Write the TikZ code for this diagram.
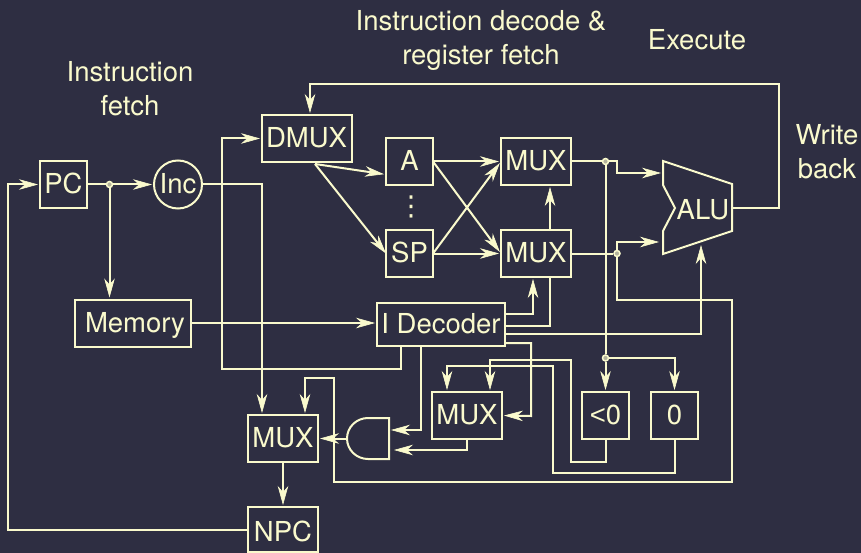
\documentclass[tikz,border=0pt]{standalone}
\usepackage{fontspec}
\setmainfont{TeX Gyre Heros}
\newfontfamily\altsans{Liberation Sans}
\newfontfamily\dotsfont{DejaVu Sans}
\usetikzlibrary{arrows.meta}
\definecolor{slate}{RGB}{46,46,66}
\definecolor{cream}{RGB}{250,250,205}
\begin{document}
\begin{tikzpicture}[x=1pt,y=-1pt,line join=miter,
  wire/.style={draw=cream,line width=2pt},
  flow/.style={wire,shorten >=2pt,-{Stealth[length=19pt,width=10.5pt,inset=6pt,line width=0.6pt]}},
  block/.style={draw=cream,line width=2pt,text=cream,inner sep=0pt,outer sep=0pt,minimum height=47pt,text height=20pt,text depth=2pt},
  reg/.style={block,minimum width=47pt},
  muxbox/.style={block,minimum width=70pt},
  tap/.style={circle,draw=cream,fill=cream!65!slate,line width=1.5pt,inner sep=0pt,minimum size=6pt},
  caption/.style={text=cream,align=center,inner sep=0pt}]
\useasboundingbox (0,0) rectangle (861,553);
\fill[slate] (0,0) rectangle (861,553);
\fontsize{27.5}{34}\selectfont
% stage captions
\node[caption] (fetchcap) at (130,88.5) {Instruction\\fetch};
\node[caption] (decodecap) at (481,40) {Instruction decode \&\\register fetch};
\node[caption] (execcap) at (697,39.5) {Execute};
\node[caption] (wbcap) at (827,151.5) {Write\\back};
% blocks
\node[reg] (pc) at (63.5,184.5) {PC};
\node[block,circle,minimum size=48pt] (inc) at (178,184.5) {Inc};
\node[block,minimum width=90pt] (dmux) at (307,138.5) {\hspace*{-1pt}DMUX};
\node[block,minimum width=116pt] (mem) at (132.5,323) {\hspace*{5pt}Memory};
\node[reg] (rega) at (409.5,161.5) {A};
\node[text=cream,inner sep=0pt] (regdots) at (411,207) {\dotsfont ⋮};
\node[reg] (regsp) at (409.5,253.5) {SP};
\node[muxbox] (muxa) at (536,161.5) {MUX};
\node[muxbox] (muxb) at (536,253.5) {MUX};
\node[block,minimum width=128pt,minimum height=43pt] (dec) at (441,324.5) {I Decoder};
\node[muxbox] (muxc) at (467,415.5) {MUX};
\node[reg] (lt) at (605.5,415.5) {{\altsans <}0};
\node[reg] (zero) at (674.5,415.5) {0};
\node[muxbox] (muxd) at (283,438.5) {MUX};
\node[muxbox,minimum height=45pt,text height=26pt] (npc) at (283,529.5) {NPC};
% ALU outline
\draw[wire] (663,161) -- (732,184) -- (732,231) -- (663,254) -- (663,231) -- (675,208) -- (663,185) -- cycle;
\node[text=cream,inner sep=0pt,text height=20pt,text depth=0pt] (alu) at (703,209.5) {ALU};
\coordinate (aluout) at (732,208);
\coordinate (aluupper) at (663,173);
\coordinate (alulower) at (661,242);
\coordinate (alubase) at (701,243);
% AND gate
\node[minimum width=42pt,minimum height=41pt,inner sep=0pt,outer sep=0pt] (andg) at (368,438.5) {};
\draw[wire] (368,418) -- (389,418) -- (389,459) -- (368,459) arc[start angle=90,end angle=270,x radius=21,y radius=20.5];
\coordinate (andup) at (389,430);
\coordinate (andlow) at (392,450);
% taps
\node[tap] (tappc) at (109.5,184.5) {};
\node[tap] (tapa) at (605.5,161.5) {};
\node[tap] (tapb) at (617,253.5) {};
\node[tap] (tapc) at (605.5,358) {};
% fetch
\draw[wire] (pc.east) -- (tappc);
\draw[flow] (tappc) -- (inc.west);
\draw[flow] (tappc) -- (mem.north -| tappc);
\draw[flow] (npc.west) -- (8,529.5) -- (8,184.5) -- (pc.west);
\draw[flow] (inc.east) -- (262,184.5) -- ([xshift=-21pt]muxd.north);
\draw[flow] (mem.east) -- (mem.east -| dec.west);
\draw[flow] ([xshift=-40pt]dec.south) -- (401,369) -- (222,369) -- (222,138.5) -- (dmux.west);
% decode
\draw[flow] (aluout) -- (779,208) -- (779,84) -- (310,84) -- ([xshift=3pt]dmux.north);
\coordinate (dmuxout) at (315,164);
\draw[flow] (dmuxout) -- ([yshift=-13pt]rega.west);
\draw[flow,shorten >=0pt] (dmuxout) -- (regsp.west);
\draw[flow] (rega.east) -- (muxa.west);
\draw[flow] (rega.east) -- (muxb.west);
\draw[flow] (regsp.east) -- (muxa.west);
\draw[flow] (regsp.east) -- (muxb.west);
\draw[flow] ([xshift=14pt]muxb.north) -- ([xshift=14pt]muxa.south);
\draw[flow] ([yshift=10.5pt]dec.east) -- (533,314) -- ([xshift=-3pt]muxb.south);
\draw[wire] ([yshift=-1.5pt]dec.east) -- (550,326) -- ([xshift=14pt]muxb.south);
% execute
\draw[wire] (muxa.east) -- (tapa);
\draw[flow] (tapa) -- (617,161.5) -- (617,173) -- (aluupper);
\draw[wire] (muxb.east) -- (tapb);
\draw[flow] (tapb) -- (617,242) -- (alulower);
\draw[flow] ([yshift=-9.5pt]dec.east) -- (701,334) -- (alubase);
\draw[wire] (tapa) -- (tapc);
\draw[flow] (tapc) -- (lt.north);
\draw[flow] (tapc) -- (674.5,358) -- (zero.north);
% next pc
\draw[flow] (tapb) -- (617,300) -- (732,300) -- (732,482) -- (334,482) -- (334,378) -- (305,378) -- ([xshift=22pt]muxd.north);
\draw[flow] ([yshift=-18.5pt]dec.east) -- (531,343) -- (531,416) -- (muxc.east);
\draw[flow] ([xshift=-20pt]dec.south) -- (421,430) -- (andup);
\draw[flow] (muxc.south) -- (467,450) -- (andlow);
\draw[flow] (lt.south) -- (605.5,462) -- (571,462) -- (571,360) -- (490,360) -- ([xshift=23pt]muxc.north);
\draw[flow] (zero.south) -- (674.5,473) -- (553,473) -- (553,366) -- (447,366) -- ([xshift=-20pt]muxc.north);
\draw[flow] (andg.west) -- (muxd.east);
\draw[flow] (muxd.south) -- (npc.north);
\end{tikzpicture}
\end{document}
